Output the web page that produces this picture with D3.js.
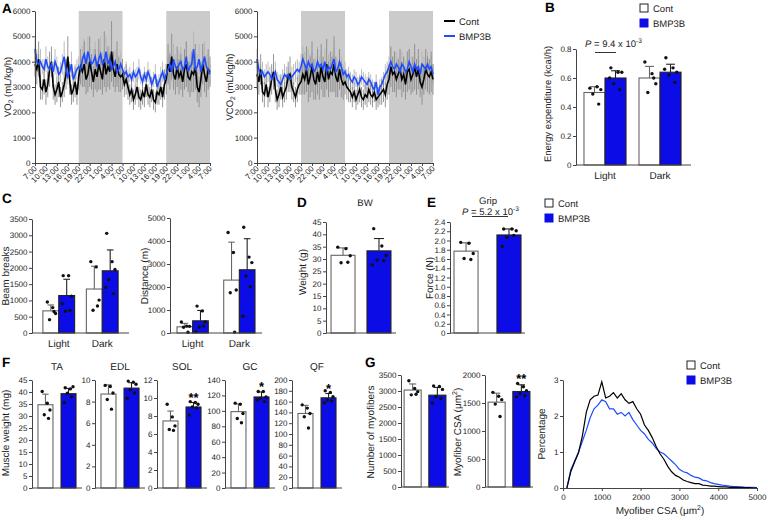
<!DOCTYPE html>
<html><head><meta charset="utf-8">
<script src="https://cdn.jsdelivr.net/npm/d3@7"></script>
<style>body{margin:0;background:#fff}svg{display:block}svg text{-webkit-font-smoothing:antialiased;text-rendering:geometricPrecision}</style>
</head><body><svg id="c" width="768" height="520"></svg>
<script>
// ---------------- DATA ----------------
const timeLabels = ["7:00","10:00","13:00","16:00","19:00","22:00","1:00","4:00","7:00","10:00","13:00","16:00","19:00","22:00","1:00","4:00","7:00"];
const timeTicks = [0,3,6,9,12,15,18,21,24,27,30,33,36,39,42,45,48];
const darkPeriods = [[12,24],[36,48]];
const vo2Cont = [3900,3700,4100,3000,2900,3300,2800,3100,3700,4000,3000,2700,2900,3200,2600,2800,3100,3500,4200,3300,2700,2900,3200,2700,
 3400,3800,3600,3900,3300,3500,4000,3600,3200,3700,3400,3900,3600,3300,4100,3500,3800,3600,4400,3700,3400,3900,3500,3400,
 3500,3100,3300,3000,2700,2900,2500,2700,3000,2600,2500,2800,2600,3100,2700,2600,2900,2500,2400,2800,2700,3000,2600,3100,
 3300,3900,3600,4200,3500,3300,3800,3400,3600,3200,3700,3900,3400,3300,3600,3500,3800,3000,2800,3300,3900,3500,3200,3700,3600];
const vo2Bmp = [4500,4000,3900,4000,3800,3700,4100,3800,3700,3900,3600,4000,3800,3500,3600,3900,4200,3700,3400,3600,3900,3300,3500,3700,
 3800,3700,4100,4300,3900,4400,4100,3900,4000,4200,3800,4100,4300,3900,4000,4400,3900,4100,3700,3800,4000,3600,3700,3900,
 3700,3500,3600,3400,3500,3300,3600,3400,3500,3700,3400,3200,3500,3300,3600,3400,3100,3300,3500,3000,3200,3400,3600,3300,
 3500,3700,3900,3600,4100,3800,3700,3900,4000,3700,3800,4200,3600,3800,3900,4500,3700,3800,4100,3600,3900,4200,3800,3700,3500];
const vo2ContSD = [500,600,700,500,400,600,500,500,700,600,500,400,500,600,400,400,500,600,800,600,400,500,600,400,
 500,700,600,900,600,700,1000,700,600,800,600,1000,700,600,1100,700,800,700,1200,700,600,900,700,600,
 600,500,600,500,400,500,400,400,500,400,400,500,400,500,400,400,500,400,400,500,400,500,400,600,
 600,800,700,900,600,600,800,700,700,600,800,900,600,700,800,700,900,600,600,700,800,700,600,800,600];
const vo2BmpSD = [400,500,400,500,300,400,500,400,300,400,400,500,400,300,400,400,600,400,300,400,500,300,400,400,
 400,500,500,600,400,600,500,400,500,600,400,500,700,500,400,600,400,500,400,500,500,400,400,500,
 400,300,400,300,300,300,400,300,300,400,300,300,300,300,400,300,300,300,400,300,300,400,400,300,
 400,500,500,400,600,500,400,500,600,400,500,600,400,500,500,700,400,500,600,400,500,600,500,400,400];
const vco2Cont = [3500,3200,3700,2800,2700,3100,2600,2900,3300,3600,2900,2500,2700,3000,2600,2800,3000,3400,3500,3000,2800,2600,2900,3100,
 3200,3500,3300,3700,3100,3400,3800,3300,3100,3600,3200,3800,3400,3200,3900,3300,3600,3500,3900,3400,3200,3700,3300,3100,
 3200,3000,2900,2800,2600,2800,2500,2700,2900,2600,2500,2700,2600,2900,2700,2600,2800,2500,2600,2700,2800,2900,2700,3100,
 3300,3800,3500,3600,3300,3500,3700,3300,3500,3100,3600,3700,3300,3500,3800,3400,3700,3200,3000,3300,3700,3500,3400,3600,3300];
const vco2Bmp = [4100,3700,3500,3600,3400,3500,3600,3500,3300,3400,3600,3300,3200,3100,3300,3500,3400,3500,3300,3400,3500,3600,3700,3600,
 3800,4100,3900,3700,4000,3800,3900,3600,3700,4000,3800,3900,3700,4000,3600,3800,3700,3900,4100,3600,3700,4000,3800,3500,
 3600,3400,3500,3300,3200,3400,3300,3100,3200,3400,3300,3200,3100,3300,3200,3000,2900,3200,2700,3000,3100,3300,3500,3600,
 3800,4000,3800,3700,3900,3800,3600,3900,3800,3600,3700,4000,3800,3600,3900,3700,3800,3500,3900,3800,3700,3900,3700,3800,3500];
const vco2ContSD = [600,500,600,400,500,500,400,500,600,700,500,400,500,500,400,400,500,600,700,500,400,400,500,400,
 500,800,600,900,700,800,1000,800,600,900,700,900,800,600,1000,700,800,700,1100,800,600,800,700,600,
 500,500,500,400,400,400,400,400,500,400,400,400,400,500,400,400,400,400,400,400,500,500,500,600,
 600,800,700,800,700,600,800,700,700,600,800,800,600,700,900,700,800,600,700,600,800,700,700,800,600];
const vco2BmpSD = [400,400,400,400,300,400,400,300,300,400,400,300,300,300,400,400,400,300,300,400,400,400,400,400,
 500,500,500,400,500,500,500,400,500,600,400,500,400,500,400,500,400,500,500,400,400,500,400,400,
 400,300,300,300,300,300,300,300,300,300,300,300,300,300,300,300,300,300,300,300,300,300,400,400,
 400,500,400,400,500,400,400,500,400,400,400,500,400,400,500,400,400,400,500,400,400,500,400,400,400];

const phaseCats = ["Light","Dark"];
const eeContMean = [0.50, 0.60], eeContSD = [0.04, 0.08];
const eeContPts = [[0.53,0.54,0.52,0.49,0.42],[0.71,0.63,0.56,0.50,0.60]];
const eeBmpMean = [0.60, 0.64], eeBmpSD = [0.05, 0.055];
const eeBmpPts = [[0.67,0.64,0.64,0.56,0.52,0.60],[0.74,0.67,0.64,0.62,0.57,0.66]];

const beamContMean = [680, 1350], beamContSD = [180, 700];
const beamContPts = [[950,780,600,410,660],[2190,2030,1010,700,830]];
const beamBmpMean = [1150, 1910], beamBmpSD = [500, 640];
const beamBmpPts = [[1760,1760,1130,670,700,900],[3060,2190,1950,1640,1210,1400]];

const distContMean = [270, 2300], distContSD = [150, 1650];
const distContPts = [[480,300,290,250,30],[4370,3500,1870,1750,40]];
const distBmpMean = [530, 2750], distBmpSD = [450, 1350];
const distBmpPts = [[1170,960,480,260,300,50],[4600,3300,3060,2480,2010,730]];

const groups = ["Cont","BMP3B"];
const bwMean = [31.5, 33.3], bwSD = [3.0, 5.0];
const bwPts = [[34.8,34.2,31.3,28.5,28.7],[42.3,35.3,31.4,29.6,29.3,27.6]];
const gripMean = [1.77, 2.12], gripSD = [0.18, 0.13];
const gripPts = [[1.96,1.94,1.72,1.61,1.59],[2.25,2.25,2.21,2.07,2.11,1.87]];

const muscleNames = ["TA","EDL","SOL","GC","QF"];
const muscleMax = [45, 10, 12, 140, 200];
const muscleStep = [5, 2, 2, 20, 20];
const muscleContMean = [34.7, 8.7, 7.45, 99, 138];
const muscleContSD = [4.4, 0.85, 1.1, 10, 15];
const muscleBmpMean = [39.3, 9.25, 9.0, 118, 167];
const muscleBmpSD = [2.2, 0.5, 0.5, 6.5, 8];
const muscleContPts = [[40.2,35.3,32.5,30.5,29],[9.5,9.4,8.8,8.2,7.3],[9.3,7.9,6.9,6.5,6.4],[110,108.5,96.5,90,84.5],[154,148,138,132,111]];
const muscleBmpPts = [[41.8,41.3,42.2,39.5,38,35.6],[9.9,9.8,9.6,9.1,8.8,8.3],[9.6,9.5,9.3,9.0,8.9,8.1],[125,125,118,116,112,114],[180,177,169,163,161,158]];
const muscleSig = ["","","**","*","*"];

const fiberNumMean = [3030, 2870], fiberNumSD = [190, 240];
const fiberNumPts = [[3320,3080,2980,2880,2900],[3160,3140,3050,2820,2770,2620]];
const fiberCsaMean = [1515, 1705], fiberCsaSD = [160, 120];
const fiberCsaPts = [[1690,1620,1560,1480,1260],[1850,1790,1720,1670,1630,1610]];

const histBins = [100,200,300,400,500,600,700,800,900,1000,1100,1200,1300,1400,1500,1600,1700,1800,1900,2000,2100,2200,2300,2400,2500,2600,2700,2800,2900,3000,3100,3200,3300,3400,3500,3600,3700,3800,3900,4000,4100,4200,4300,4400,4500,4600,4700,4800,4900,5000];
const histCont = [0,0.45,0.72,0.98,1.45,2.1,2.45,2.55,2.58,2.95,2.5,2.55,2.65,2.5,2.62,2.45,2.35,2.4,2.2,2.05,1.75,1.6,1.4,1.15,0.95,0.8,0.6,0.45,0.35,0.3,0.22,0.18,0.15,0.12,0.12,0.08,0.07,0.05,0.05,0.04,0.03,0.03,0.02,0.02,0.01,0.01,0.01,0.01,0,0];
const histBmp = [0,0.5,0.75,1.0,1.3,1.6,1.95,2.2,2.3,2.45,2.4,2.2,2.2,2.05,2.1,2.0,2.1,1.9,1.75,1.6,1.5,1.35,1.25,1.1,1.0,0.95,0.85,0.75,0.65,0.52,0.45,0.42,0.35,0.3,0.28,0.22,0.2,0.15,0.12,0.1,0.08,0.07,0.05,0.04,0.04,0.03,0.02,0.02,0.02,0.01];

// ---------------- STYLE ----------------
const FONT = '"Liberation Sans", Arial, Helvetica, sans-serif';
const BLUE = "#0c0ce6", LINEBLUE = "#1f4cff", AXIS = "#444", TXT = "#222";
const svg = d3.select("#c");
svg.append("rect").attr("width",768).attr("height",520).attr("fill","#fff");

function text(x, y, s, size, opt = {}) {
  const t = svg.append("text").attr("x", x).attr("y", y).attr("font-family", FONT)
    .attr("font-size", size).style("fill", opt.fill || TXT)
    .attr("text-anchor", opt.anchor || "start");
  if (opt.bold) t.attr("font-weight", "bold");
  t.text(s);
  return t;
}
function panelLetter(x, y, s) { text(x, y, s, 13.5, {bold: true, fill: "#000"}); }

function rotLabel(x, cy, parts, size) {
  const t = svg.append("text").attr("transform", `translate(${x},${cy}) rotate(-90)`)
    .attr("text-anchor", "middle").attr("font-family", FONT).attr("font-size", size).style("fill", TXT);
  addParts(t, parts, size);
}
function addParts(t, parts, size) {
  parts.forEach(p => {
    const [s, mode] = Array.isArray(p) ? p : [p, ""];
    const ts = t.append("tspan").text(s);
    if (mode === "sub") ts.attr("font-size", size * 0.7).attr("dy", size * 0.25);
    else if (mode === "sup") ts.attr("font-size", size * 0.7).attr("dy", -size * 0.4);
    else if (mode === "reset") ts.attr("dy", size * 0.4);
    else if (mode === "resetsub") ts.attr("dy", -size * 0.25);
    else if (mode === "it") ts.attr("font-style", "italic");
  });
}

function styleAxis(a) {
  a.select(".domain").attr("stroke", AXIS).attr("stroke-width", 1);
  a.selectAll(".tick line").attr("stroke", AXIS);
  a.selectAll(".tick text").attr("font-size", 8).attr("font-family", FONT).attr("fill", null).style("fill", TXT);
}
function leftAxis(y, x, ticks, fmt) {
  const a = svg.append("g").attr("transform", `translate(${x},0)`)
    .call(d3.axisLeft(y).tickValues(ticks).tickFormat(fmt).tickSize(3).tickSizeOuter(0).tickPadding(1.5));
  styleAxis(a);
  return a;
}
const numFmt = d => d === 0 ? "0" : String(d);
const dec1 = d => d === 0 ? "0" : d3.format(".1f")(d);

// ---------------- TIME SERIES (A) ----------------
function timePanel(x0, x1, cont, bmp, contSD, bmpSD) {
  const yT = 11, yB = 163;
  const x = d3.scaleLinear().domain([0, 48]).range([x0, x1]);
  const y = d3.scaleLinear().domain([0, 6000]).range([yB, yT]);
  darkPeriods.forEach(([a, b]) => svg.append("rect").attr("x", x(a)).attr("y", yT)
    .attr("width", x(b) - x(a)).attr("height", yB - yT).attr("fill", "#cbcbcb"));
  const g = svg.append("g");
  bmp.forEach((v, i) => g.append("line").attr("x1", x(i * 0.5)).attr("x2", x(i * 0.5))
    .attr("y1", y(v - bmpSD[i])).attr("y2", y(v + bmpSD[i])).attr("stroke", "#b4b4b4").attr("stroke-width", 0.9));
  cont.forEach((v, i) => g.append("line").attr("x1", x(i * 0.5)).attr("x2", x(i * 0.5))
    .attr("y1", y(v - contSD[i])).attr("y2", y(v + contSD[i])).attr("stroke", "#8a8a8a").attr("stroke-width", 0.9));
  const line = d3.line().x((d, i) => x(i * 0.5)).y(d => y(d));
  svg.append("path").datum(cont).attr("d", line).attr("fill", "none").attr("stroke", "#000").attr("stroke-width", 1.6);
  svg.append("path").datum(bmp).attr("d", line).attr("fill", "none").attr("stroke", LINEBLUE).attr("stroke-width", 1.6);
  leftAxis(y, x0, [0, 1000, 2000, 3000, 4000, 5000, 6000], numFmt);
  const ax = svg.append("g").attr("transform", `translate(0,${yB})`)
    .call(d3.axisBottom(x).tickValues(timeTicks).tickFormat((d, i) => timeLabels[i]).tickSize(3).tickSizeOuter(0));
  styleAxis(ax);
  ax.selectAll(".tick text").attr("text-anchor", "end").attr("dy", null).attr("y", 0)
    .attr("transform", "translate(2,6) rotate(-45)");
}
timePanel(35, 210, vo2Cont, vo2Bmp, vo2ContSD, vo2BmpSD);
timePanel(257, 433, vco2Cont, vco2Bmp, vco2ContSD, vco2BmpSD);
panelLetter(2, 13, "A");
rotLabel(11, 87, ["VO", ["2", "sub"], [" (mL/kg/h)", "resetsub"]], 9.5);
rotLabel(233, 87, ["VCO", ["2", "sub"], [" (mL/kg/h)", "resetsub"]], 9.5);
[["Cont", "#000", 21], ["BMP3B", LINEBLUE, 36]].forEach(([s, c, yy]) => {
  svg.append("line").attr("x1", 444).attr("x2", 455).attr("y1", yy).attr("y2", yy).attr("stroke", c).attr("stroke-width", 2);
  text(459, yy + 3.5, s, 9.5);
});

// ---------------- BAR PANELS ----------------
const dotOff = [-0.22, 0.12, 0.3, -0.08, 0.2, -0.28];
function drawBar(y, bx, w, mean, sd, pts, isBmp, yB) {
  svg.append("rect").attr("x", bx).attr("y", y(mean)).attr("width", w).attr("height", yB - y(mean))
    .attr("fill", isBmp ? BLUE : "#fff").attr("stroke", isBmp ? "#222" : "#666").attr("stroke-width", 1.1);
  const cx = bx + w / 2, cw = Math.max(5, w * 0.42);
  const ec = isBmp ? "#222" : "#666";
  svg.append("line").attr("x1", cx).attr("x2", cx).attr("y1", y(mean)).attr("y2", y(mean + sd)).attr("stroke", ec).attr("stroke-width", 1.1);
  svg.append("line").attr("x1", cx - cw / 2).attr("x2", cx + cw / 2).attr("y1", y(mean + sd)).attr("y2", y(mean + sd)).attr("stroke", ec).attr("stroke-width", 1.1);
  pts.forEach((p, j) => svg.append("circle").attr("cx", cx + dotOff[j % dotOff.length] * w).attr("cy", y(p))
    .attr("r", 1.7).attr("fill", "#111"));
}
function groupedPanel(c) {
  const y = d3.scaleLinear().domain([0, c.max]).range([c.yB, c.yT]);
  const outer = d3.scaleBand().domain(phaseCats).range([c.x0, c.x1]).paddingInner(c.pi).paddingOuter(c.po);
  const inner = d3.scaleBand().domain(groups).range([0, outer.bandwidth()]);
  phaseCats.forEach((cat, i) => {
    drawBar(y, outer(cat) + inner("Cont"), inner.bandwidth(), c.cm[i], c.cs[i], c.cp[i], false, c.yB);
    drawBar(y, outer(cat) + inner("BMP3B"), inner.bandwidth(), c.bm[i], c.bs[i], c.bp[i], true, c.yB);
    text(outer(cat) + outer.bandwidth() / 2, c.yB + 13.5, cat, 10, {anchor: "middle"});
  });
  svg.append("line").attr("x1", c.x0).attr("x2", c.xEnd).attr("y1", c.yB).attr("y2", c.yB).attr("stroke", AXIS);
  leftAxis(y, c.x0, c.ticks, c.fmt);
  return y;
}
function pairPanel(c) {
  const y = d3.scaleLinear().domain([0, c.max]).range([c.yB, c.yT]);
  const xs = d3.scaleBand().domain(groups).range([c.x0, c.x1]).paddingInner(c.pi).paddingOuter(c.po);
  drawBar(y, xs("Cont"), xs.bandwidth(), c.cm, c.cs, c.cp, false, c.yB);
  drawBar(y, xs("BMP3B"), xs.bandwidth(), c.bm, c.bs, c.bp, true, c.yB);
  svg.append("line").attr("x1", c.x0).attr("x2", c.xEnd || c.x1).attr("y1", c.yB).attr("y2", c.yB).attr("stroke", AXIS);
  leftAxis(y, c.x0, c.ticks, c.fmt);
  if (c.sig) text(xs("BMP3B") + xs.bandwidth() / 2, y(c.bm + c.bs) - c.sigGap, c.sig, 13, {anchor: "middle", fill: "#000", bold: true});
  return {y, xs};
}
function sq(x, y, isBmp) {
  svg.append("rect").attr("x", x).attr("y", y).attr("width", 8).attr("height", 8)
    .attr("fill", isBmp ? BLUE : "#fff").attr("stroke", isBmp ? BLUE : "#222").attr("stroke-width", 1);
}
function sqLegend(x, y) {
  sq(x, y, false); text(x + 13, y + 8, "Cont", 9.5);
  sq(x, y + 15, true); text(x + 13, y + 23, "BMP3B", 9.5);
}

// B
panelLetter(545, 12, "B");
sqLegend(640, 4);
groupedPanel({x0: 576, x1: 689, xEnd: 691, yT: 49, yB: 165, max: 0.8, ticks: [0, 0.2, 0.4, 0.6, 0.8], fmt: dec1,
  pi: 0.236, po: 0.145, cm: eeContMean, cs: eeContSD, cp: eeContPts, bm: eeBmpMean, bs: eeBmpSD, bp: eeBmpPts});
rotLabel(551, 104, ["Energy expenditure (kcal/h)"], 9.5);
{
  const t = svg.append("text").attr("x", 585).attr("y", 47).attr("font-family", FONT).attr("font-size", 9.5).style("fill", TXT);
  addParts(t, [["P", "it"], " = 9.4 x 10", ["-3", "sup"]], 9.5);
  svg.append("line").attr("x1", 595).attr("x2", 616).attr("y1", 52.5).attr("y2", 52.5).attr("stroke", "#333");
}

// C
panelLetter(2, 203, "C");
groupedPanel({x0: 32, x1: 129, xEnd: 129, yT: 219, yB: 333, max: 3500, ticks: d3.range(0, 3501, 500), fmt: numFmt,
  pi: 0.27, po: 0.25, cm: beamContMean, cs: beamContSD, cp: beamContPts, bm: beamBmpMean, bs: beamBmpSD, bp: beamBmpPts});
rotLabel(9, 276, ["Beam breaks"], 10);
groupedPanel({x0: 170, x1: 262, xEnd: 262, yT: 218, yB: 333, max: 5000, ticks: d3.range(0, 5001, 1000), fmt: numFmt,
  pi: 0.33, po: 0.15, cm: distContMean, cs: distContSD, cp: distContPts, bm: distBmpMean, bs: distBmpSD, bp: distBmpPts});
rotLabel(148, 276, ["Distance (m)"], 10);

// D
panelLetter(297, 207, "D");
text(365, 206, "BW", 9.5, {anchor: "middle"});
pairPanel({x0: 326, x1: 396, yT: 222, yB: 333, max: 45, ticks: d3.range(0, 46, 5), fmt: numFmt,
  pi: 0.333, po: 0.14, cm: bwMean[0], cs: bwSD[0], cp: bwPts[0], bm: bwMean[1], bs: bwSD[1], bp: bwPts[1]});
rotLabel(306, 272, ["Weight (g)"], 10);

// E
panelLetter(427, 207, "E");
text(488, 203.5, "Grip", 9.5, {anchor: "middle"});
pairPanel({x0: 450, x1: 525, yT: 222, yB: 333, max: 2.4, ticks: d3.range(0, 12.5, 1).map(v => +(v * 0.2).toFixed(1)), fmt: dec1,
  pi: 0.44, po: 0.093, cm: gripMean[0], cs: gripSD[0], cp: gripPts[0], bm: gripMean[1], bs: gripSD[1], bp: gripPts[1]});
rotLabel(433, 278, ["Force (N)"], 10);
{
  const t = svg.append("text").attr("x", 462).attr("y", 214.5).attr("font-family", FONT).attr("font-size", 9.5).style("fill", TXT);
  addParts(t, [["P", "it"], " = 5.2 x 10", ["-3", "sup"]], 9.5);
  svg.append("line").attr("x1", 472).attr("x2", 508).attr("y1", 216.5).attr("y2", 216.5).attr("stroke", "#333");
}
sqLegend(545, 199);

// F
panelLetter(2, 367, "F");
const muscleAxisX = [32, 95, 157, 225, 292];
muscleNames.forEach((m, i) => {
  const x0 = muscleAxisX[i];
  pairPanel({x0, x1: x0 + 50, yT: 380, yB: 488, max: muscleMax[i], ticks: d3.range(0, muscleMax[i] + 0.01, muscleStep[i]), fmt: numFmt,
    pi: 0.35, po: 0.26, cm: muscleContMean[i], cs: muscleContSD[i], cp: muscleContPts[i],
    bm: muscleBmpMean[i], bs: muscleBmpSD[i], bp: muscleBmpPts[i], sig: muscleSig[i], sigGap: 1});
  text(x0 + 25, 370, m, 10, {anchor: "middle"});
});
rotLabel(9, 433, ["Muscle weight (mg)"], 10);

// G
panelLetter(365, 367, "G");
pairPanel({x0: 401, x1: 449, yT: 375, yB: 487, max: 3500, ticks: d3.range(0, 3501, 500), fmt: numFmt,
  pi: 0.31, po: 0.125, cm: fiberNumMean[0], cs: fiberNumSD[0], cp: fiberNumPts[0], bm: fiberNumMean[1], bs: fiberNumSD[1], bp: fiberNumPts[1]});
rotLabel(374, 432, ["Number of myofibers"], 10);
pairPanel({x0: 485, x1: 533, yT: 375, yB: 487, max: 2000, ticks: d3.range(0, 2001, 500), fmt: numFmt,
  pi: 0.31, po: 0.125, cm: fiberCsaMean[0], cs: fiberCsaSD[0], cp: fiberCsaPts[0], bm: fiberCsaMean[1], bs: fiberCsaSD[1], bp: fiberCsaPts[1], sig: "**", sigGap: 2});
rotLabel(461, 432, ["Myofiber CSA (μm", ["2", "sup"], [")", "reset"]], 10);

// histogram
{
  const x = d3.scaleLinear().domain([0, 5000]).range([563, 757]);
  const y = d3.scaleLinear().domain([0, 3]).range([488, 380]);
  const line = d3.line().x((d, i) => x(histBins[i])).y(d => y(d));
  svg.append("path").datum(histBmp).attr("d", line).attr("fill", "none").attr("stroke", LINEBLUE).attr("stroke-width", 1.2);
  svg.append("path").datum(histCont).attr("d", line).attr("fill", "none").attr("stroke", "#000").attr("stroke-width", 1.2);
  leftAxis(y, 563, [0, 1, 2, 3], numFmt);
  const ax = svg.append("g").attr("transform", "translate(0,488)")
    .call(d3.axisBottom(x).tickValues(d3.range(0, 5001, 1000)).tickSize(3).tickSizeOuter(0).tickFormat(numFmt));
  styleAxis(ax);
  rotLabel(545, 434, ["Percentage"], 10);
  const t = svg.append("text").attr("x", 660).attr("y", 514).attr("text-anchor", "middle")
    .attr("font-family", FONT).attr("font-size", 10).style("fill", TXT);
  addParts(t, ["Myofiber CSA (μm", ["2", "sup"], [")", "reset"]], 10);
  sqLegend(687, 361);
}
</script></body></html>
